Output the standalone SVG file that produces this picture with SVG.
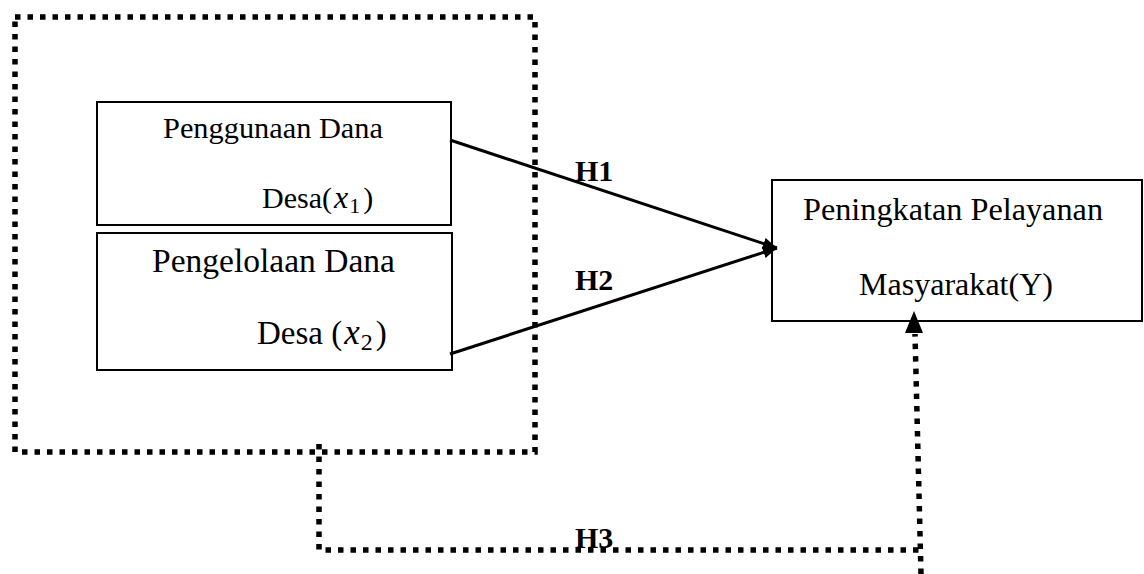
<svg xmlns="http://www.w3.org/2000/svg" width="1144" height="574" viewBox="0 0 1144 574">
  <style>
    .box { fill: #ffffff; stroke: #000000; stroke-width: 2; }
    .lbl { font-family: "Liberation Serif", "Times New Roman", serif; fill: #000000; }
    .hyp { font-family: "Liberation Serif", "Times New Roman", serif; font-weight: bold; font-size: 30px; fill: #000000; }
    .dot { fill: none; stroke: #000000; stroke-width: 5.5; stroke-dasharray: 5.5 7; }
    .arrow { fill: none; stroke: #000000; stroke-width: 3; }
    .it { font-style: italic; }
  </style>
  <defs>
    <marker id="ah" markerUnits="userSpaceOnUse" markerWidth="16" markerHeight="14" refX="14" refY="6" orient="auto">
      <path d="M0,0 L14,6 L0,12 z" fill="#000000"/>
    </marker>
  </defs>
  <rect x="0" y="0" width="1144" height="574" fill="#ffffff"/>

  <g id="frame">
    <rect class="dot" x="15" y="17" width="520" height="435"/>
  </g>

  <g id="node-x1">
    <rect class="box" x="97" y="102" width="354" height="123"/>
    <text class="lbl" x="163" y="138" font-size="30" textLength="220" lengthAdjust="spacingAndGlyphs">Penggunaan Dana</text>
    <text class="lbl" x="262" y="208" font-size="30">Desa(<tspan class="it" dx="2" font-size="32">x</tspan><tspan font-size="22" dy="5" dx="1">1</tspan><tspan dy="-5" dx="3">)</tspan></text>
  </g>

  <g id="node-x2">
    <rect class="box" x="97" y="233" width="355" height="137"/>
    <text class="lbl" x="152" y="272" font-size="33" textLength="243" lengthAdjust="spacingAndGlyphs">Pengelolaan Dana</text>
    <text class="lbl" x="257" y="344" font-size="33">Desa (<tspan class="it" dx="2" font-size="35">x</tspan><tspan font-size="24" dy="6" dx="1">2</tspan><tspan dy="-6" dx="3">)</tspan></text>
  </g>

  <g id="node-y">
    <rect class="box" x="772" y="180" width="370" height="141"/>
    <text class="lbl" x="803" y="220" font-size="32" textLength="300" lengthAdjust="spacingAndGlyphs">Peningkatan Pelayanan</text>
    <text class="lbl" x="859" y="295" font-size="32" textLength="194" lengthAdjust="spacingAndGlyphs">Masyarakat(Y)</text>
  </g>

  <g id="connectors">
    <line class="arrow" x1="450" y1="140" x2="777" y2="248" marker-end="url(#ah)"/>
    <line class="arrow" x1="450" y1="354" x2="777" y2="248" marker-end="url(#ah)"/>
    <polyline class="dot" points="319,444 319,550 919,550"/>
    <line class="dot" x1="921" y1="574" x2="915" y2="334"/>
    <polygon points="914,311 905,333 923,333" fill="#000000"/>
    <text class="hyp" x="575" y="181">H1</text>
    <text class="hyp" x="575" y="290">H2</text>
    <text class="hyp" x="575" y="548">H3</text>
  </g>
</svg>
